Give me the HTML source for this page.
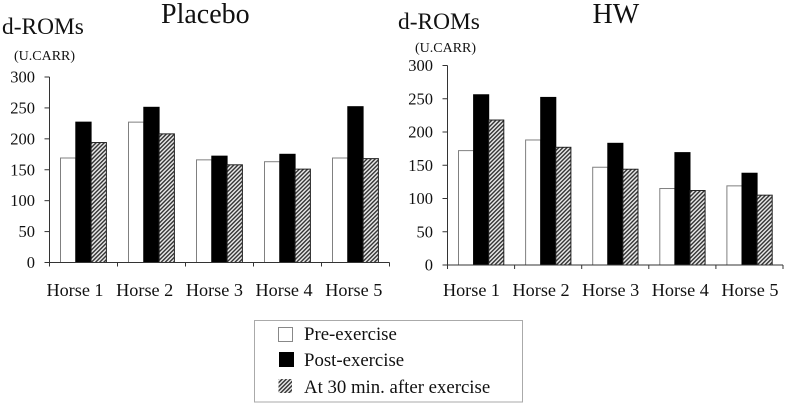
<!DOCTYPE html>
<html>
<head>
<meta charset="utf-8">
<style>
html,body{margin:0;padding:0;background:#fff;width:785px;height:405px;overflow:hidden}
svg{display:block;font-family:"Liberation Serif",serif;fill:#111}
</style>
</head>
<body>
<svg id="chart" width="785" height="405" viewBox="0 0 785 405" xmlns="http://www.w3.org/2000/svg">
<defs>
<pattern id="hatch" patternUnits="userSpaceOnUse" width="2.9" height="2.9" patternTransform="rotate(-45)">
<rect width="2.9" height="2.9" fill="#e8e8e8"></rect>
<rect width="2.9" height="1.4" fill="#333"></rect>
</pattern>
</defs>
<text x="161" y="23" font-size="28">Placebo</text>
<text x="2" y="34" font-size="23.4">d-ROMs</text>
<text x="14" y="60" font-size="14">(U.CARR)</text>
<text x="592.5" y="23" font-size="28">HW</text>
<text x="398" y="29" font-size="23.4">d-ROMs</text>
<text x="415" y="52" font-size="14">(U.CARR)</text>
<g id="placebo-panel"></g>
<g id="hw-panel"></g>
<g>
<rect x="254.5" y="320.5" width="268" height="81.5" fill="#fff" stroke="#aaa" stroke-width="1"></rect>
<rect x="278.5" y="327.5" width="14" height="14" fill="#fff" stroke="#888"></rect>
<text x="304" y="340" font-size="18.8">Pre-exercise</text>
<rect x="279" y="352" width="15" height="15" fill="#000"></rect>
<text x="304" y="366" font-size="18.8">Post-exercise</text>
<rect x="278.5" y="379" width="13.5" height="14" fill="url(#hatch)"></rect>
<text x="304" y="393" font-size="18.8">At 30 min. after exercise</text>
</g>
</svg>
<script>
const categories = ["Horse 1", "Horse 2", "Horse 3", "Horse 4", "Horse 5"];
const yTicks = [0, 50, 100, 150, 200, 250, 300];
const placeboPre = [169, 227, 166, 163, 169];
const placeboPost = [227, 251, 172, 175, 252];
const placeboAt30 = [194, 208, 158, 151, 168];
const hwPre = [172, 188, 147, 115, 119];
const hwPost = [256, 252, 183, 169, 138];
const hwAt30 = [218, 177, 144, 112, 105];

const NS = "http://www.w3.org/2000/svg";

function make(parent, tag, attrs, text) {
  const el = document.createElementNS(NS, tag);
  for (const k in attrs) el.setAttribute(k, attrs[k]);
  if (text !== undefined) el.textContent = text;
  parent.appendChild(el);
  return el;
}

function drawPanel(group, prefix, geom, pre, post, at30) {
  const yScale = v => geom.bottom - (v / 300) * (geom.bottom - geom.top);
  const xScale = i => geom.left + i * geom.step;

  const seriesList = [
    { key: "pre", values: pre, fill: "#fff", stroke: "#808080" },
    { key: "post", values: post, fill: "#000", stroke: "#000" },
    { key: "at-30", values: at30, fill: "url(#hatch)", stroke: "#222" }
  ];

  seriesList.forEach((s, si) => {
    s.values.forEach((v, i) => {
      const x = xScale(i) + geom.offset + si * geom.barW;
      const y = yScale(v);
      const bar = make(group, "rect", {
        x: x, y: y, width: geom.barW, height: geom.bottom - y,
        fill: s.fill, stroke: s.stroke, "stroke-width": 1
      });
      
      
      bar.setAttribute('data-series', s.key);
    });
  });

  const yAxis = make(group, "line", {
    x1: geom.left, x2: geom.left, y1: geom.top, y2: geom.bottom, stroke: "#333", "stroke-width": 1
  });
  
  

  const xAxis = make(group, "line", {
    x1: geom.left, x2: xScale(categories.length), y1: geom.bottom, y2: geom.bottom, stroke: "#333", "stroke-width": 1
  });
  
  

  yTicks.forEach(t => {
    const y = yScale(t);
    const tick = make(group, "line", {
      x1: geom.left - 5, x2: geom.left, y1: y, y2: y, stroke: "#333", "stroke-width": 1
    });
    
    
    const label = make(group, "text", {
      x: geom.left - 14.5, y: y + 5.5, "font-size": 16.5, "text-anchor": "end"
    }, String(t));
    
    
  });

  for (let i = 0; i <= categories.length; i++) {
    const tick = make(group, "line", {
      x1: xScale(i), x2: xScale(i), y1: geom.bottom, y2: geom.bottom + 4, stroke: "#333", "stroke-width": 1
    });
    
    
  }

  categories.forEach((c, i) => {
    const label = make(group, "text", {
      x: geom.labelStart + i * geom.labelStep, y: geom.labelY, "font-size": 18.2, "text-anchor": "middle"
    }, c);
    
    
  });
}

drawPanel(document.getElementById("placebo-panel"), "placebo",
  { left: 49.5, top: 77, bottom: 262.5, step: 68, offset: 11, barW: 15.3, labelY: 296, labelStart: 75, labelStep: 69.7 },
  placeboPre, placeboPost, placeboAt30);

drawPanel(document.getElementById("hw-panel"), "hw",
  { left: 447.5, top: 65.5, bottom: 265, step: 67.1, offset: 11, barW: 15.1, labelY: 296, labelStart: 471.5, labelStep: 69.6 },
  hwPre, hwPost, hwAt30);
</script>
</body>
</html>
